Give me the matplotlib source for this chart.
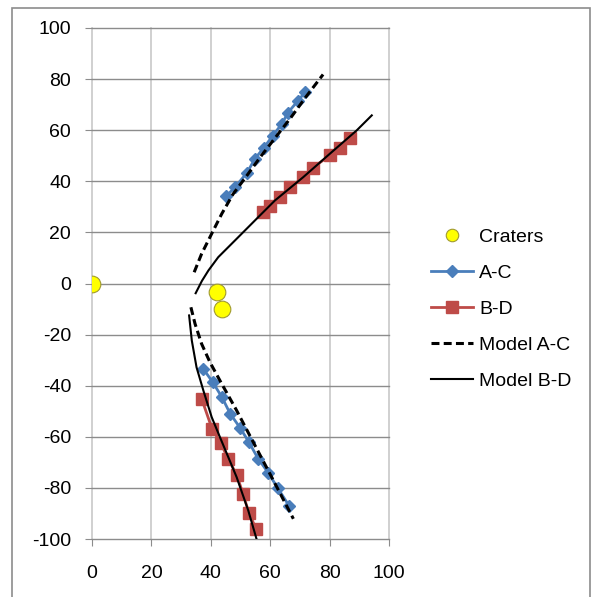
import matplotlib
matplotlib.use("Agg")
import matplotlib.pyplot as plt
from matplotlib.patches import Rectangle

plt.rcParams['font.family'] = ['Liberation Sans', 'DejaVu Sans']
plt.rcParams['axes.unicode_minus'] = False

# Data
craters_x = [0, 42.0, 43.9]
craters_y = [0, -3.4, -9.9]

ac_upper_x = [45.1, 48.1, 52.2, 54.9, 57.9, 60.9, 64.0, 66.0, 69.4, 71.7]
ac_upper_y = [34.1, 37.6, 43.4, 48.9, 53.2, 57.9, 62.6, 66.9, 71.6, 74.8]
ac_lower_x = [37.4, 40.7, 43.8, 46.5, 49.8, 52.9, 55.9, 59.3, 62.6, 66.3]
ac_lower_y = [-33.3, -38.7, -44.6, -50.9, -56.4, -62.2, -68.5, -74.0, -80.2, -86.9]

bd_upper_x = [57.6, 59.9, 63.3, 66.7, 71.0, 74.4, 80.1, 83.5, 86.9]
bd_upper_y = [27.8, 30.5, 33.7, 37.6, 41.5, 45.4, 50.1, 53.2, 56.8]
bd_lower_x = [37.0, 40.4, 43.4, 45.8, 48.8, 50.8, 52.9, 55.2]
bd_lower_y = [-45.4, -56.8, -62.6, -68.5, -75.1, -82.2, -90.0, -95.9]

model_ac_upper_x = [34.4, 36.9, 40.3, 43.7, 47.5, 52.0, 57.0, 62.0, 67.0, 72.0, 77.8]
model_ac_upper_y = [4.4, 11.6, 19.5, 27.3, 35.0, 42.0, 50.0, 57.5, 65.0, 73.0, 81.8]
model_ac_lower_x = [33.3, 34.7, 36.9, 39.7, 43.7, 48.7, 55.2, 60.5, 67.8]
model_ac_lower_y = [-9.3, -15.8, -23.6, -30.8, -39.3, -49.7, -64.1, -75.8, -92.1]

model_bd_upper_x = [34.9, 37.0, 39.2, 42.5, 48.1, 56.0, 61.6, 71.1, 80.1, 89.1, 94.2]
model_bd_upper_y = [-3.8, 1.0, 5.1, 10.3, 16.8, 26.0, 32.5, 41.6, 50.8, 59.9, 65.8]
model_bd_lower_x = [32.7, 33.6, 35.2, 37.5, 40.3, 43.1, 48.7, 52.6, 55.4]
model_bd_lower_y = [-12.5, -22.3, -32.8, -41.9, -52.3, -60.2, -75.8, -88.8, -100.0]

x_ticks = [0, 20, 40, 60, 80, 100]
y_ticks = [-100, -80, -60, -40, -20, 0, 20, 40, 60, 80, 100]

blue = '#4a7ebb'
red = '#be4b48'

fig = plt.figure(figsize=(5.92, 5.97), dpi=100)
ax = fig.add_axes([92/592, 1-539/597, (389-92)/592, (539-28)/597])

ax.set_xlim(0, 100)
ax.set_ylim(-100, 100)
ax.set_xticks(x_ticks)
ax.set_yticks(y_ticks)
for s in ax.spines.values():
    s.set_visible(False)
ax.xaxis.grid(True, color='#c8c8c8', lw=1.2)
ax.yaxis.grid(True, color='#8c8c8c', lw=1.0)
ax.set_axisbelow(True)
ax.tick_params(axis='both', direction='out', length=5, color='#8c8c8c', labelsize=14, labelcolor='#000000')
ax.tick_params(axis='y', pad=10)
ax.tick_params(axis='x', pad=14)
for gl in ax.get_xgridlines() + ax.get_ygridlines():
    gl.set_clip_on(False)

dash = (2.6, 1.4)
l_model_ac, = ax.plot(model_ac_upper_x, model_ac_upper_y, color='black', lw=2.2, linestyle='--', dashes=dash, label='Model A-C', zorder=4)
ax.plot(model_ac_lower_x, model_ac_lower_y, color='black', lw=2.2, linestyle='--', dashes=dash, zorder=4)
l_model_bd, = ax.plot(model_bd_upper_x, model_bd_upper_y, color='black', lw=1.5, label='Model B-D', zorder=4)
ax.plot(model_bd_lower_x, model_bd_lower_y, color='black', lw=1.5, zorder=4)

l_ac, = ax.plot(ac_upper_x, ac_upper_y, color=blue, lw=2, marker='D', markersize=6.5, label='A-C', zorder=3)
ax.plot(ac_lower_x, ac_lower_y, color=blue, lw=2, marker='D', markersize=6.5, zorder=3)
l_bd, = ax.plot(bd_upper_x, bd_upper_y, color=red, lw=2, marker='s', markersize=8, label='B-D', zorder=3)
ax.plot(bd_lower_x, bd_lower_y, color=red, lw=2, marker='s', markersize=8, zorder=3)

l_cr, = ax.plot(craters_x, craters_y, linestyle='none', marker='o', markersize=12,
                markerfacecolor='#ffff00', markeredgecolor='#a09a30', markeredgewidth=0.8,
                label='Craters', zorder=5)

leg = fig.legend(handles=[l_cr, l_ac, l_bd, l_model_ac, l_model_bd],
                 loc='center left', bbox_to_anchor=(431/592, 1-309/597),
                 frameon=False, fontsize=14, borderpad=0, borderaxespad=0,
                 handlelength=2.17, handletextpad=0.3, labelspacing=0.95,
                 markerscale=1.0)
leg.legend_handles[0].set_markersize(9)

fig.add_artist(Rectangle((12/592, -0.05), (590-12)/592, 1.05-8/597,
                         transform=fig.transFigure, fill=False,
                         edgecolor='#8c8c8c', lw=1.2))

fig.savefig('out.png', dpi=100)
